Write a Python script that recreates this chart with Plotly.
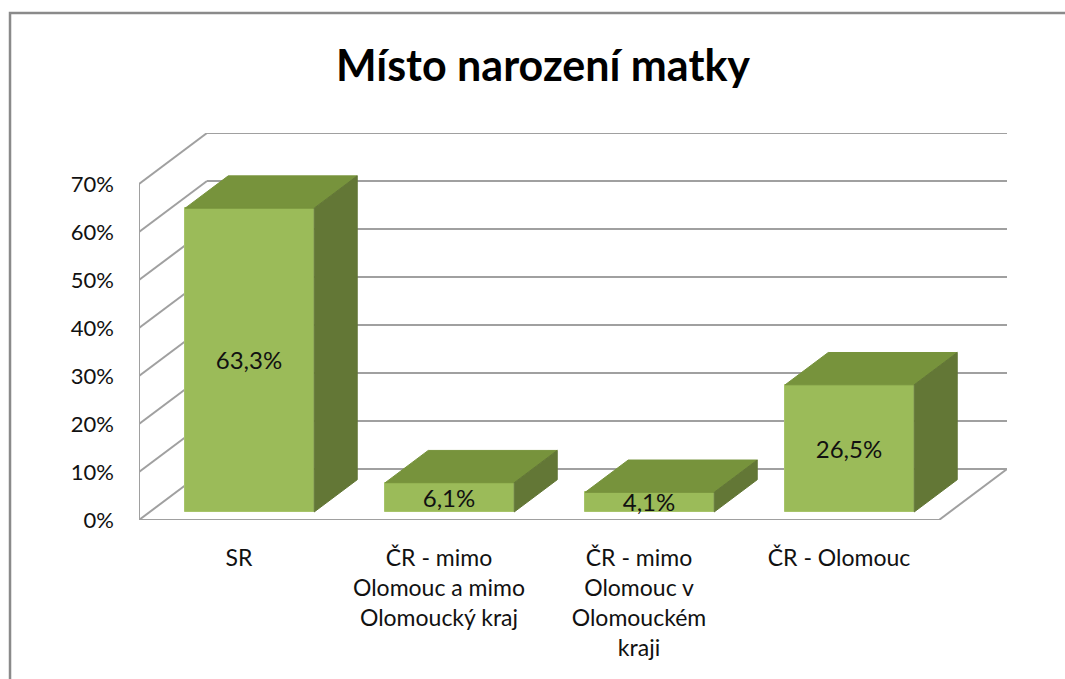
import plotly.graph_objects as go

# ---- data ----
categories = [
    "SR",
    "ČR - mimo<br>Olomouc a mimo<br>Olomoucký kraj",
    "ČR - mimo<br>Olomouc v<br>Olomouckém<br>kraji",
    "ČR - Olomouc",
]
values = [63.3, 6.1, 4.1, 26.5]
y_ticks = [0, 10, 20, 30, 40, 50, 60, 70]
y_tick_labels = ["0%", "10%", "20%", "30%", "40%", "50%", "60%", "70%"]
title_text = "Místo narození matky"

# ---- 3D (oblique) projection parameters ----
DX = 0.34        # category units for full depth
DY = 10.625      # percent units for full depth
D0, D1 = 0.157, 0.79   # bar front / back depth fractions
BAR_W = 0.645
FONT = "Lato, 'Noto Sans', sans-serif"

FRONT = "#9BBB59"
TOP = "#77933C"
SIDE = "#637736"
GRID = "#a0a0a0"

n = len(categories)
x_left, x_right = -0.5, n - 0.5

fig = go.Figure()

# front faces of the bars (bar trace)
fx = [i + D0 * DX for i in range(n)]
base = D0 * DY
labels = [f"{v:.1f}%".replace(".", ",") for v in values]
fig.add_trace(go.Bar(
    x=fx, y=values, base=[base] * n, width=BAR_W,
    marker=dict(color=FRONT, line=dict(color="#a7c46a", width=1)),
    text=labels, textposition="inside", insidetextanchor="middle",
    constraintext="none", textangle=0,
    textfont=dict(family=FONT, size=24, color="#111111"),
    hoverinfo="skip", showlegend=False,
))

# top and side faces (polygons computed from data)
ddx = (D1 - D0) * DX
ddy = (D1 - D0) * DY
h = BAR_W / 2
for i, v in enumerate(values):
    cx = fx[i]
    top_y = base + v
    fig.add_trace(go.Scatter(
        x=[cx - h, cx + h, cx + h + ddx, cx - h + ddx, cx - h],
        y=[top_y, top_y, top_y + ddy, top_y + ddy, top_y],
        fill="toself", fillcolor=TOP, mode="lines",
        line=dict(color=TOP, width=1), hoverinfo="skip", showlegend=False,
    ))
    fig.add_trace(go.Scatter(
        x=[cx + h, cx + h, cx + h + ddx, cx + h + ddx, cx + h],
        y=[base, top_y, top_y + ddy, base + ddy, base],
        fill="toself", fillcolor=SIDE, mode="lines",
        line=dict(color=SIDE, width=1), hoverinfo="skip", showlegend=False,
    ))

# walls / gridlines (below traces)
shapes = []
line = dict(color=GRID, width=2)
for v in y_ticks:
    shapes.append(dict(type="line", xref="x", yref="y", layer="below",
                       x0=x_left + DX, y0=v + DY, x1=x_right + DX, y1=v + DY, line=line))
    shapes.append(dict(type="line", xref="x", yref="y", layer="below",
                       x0=x_left, y0=v, x1=x_left + DX, y1=v + DY, line=line))
shapes.append(dict(type="line", xref="x", yref="y", layer="below",
                   x0=x_left, y0=0, x1=x_left, y1=y_ticks[-1], line=line))
shapes.append(dict(type="line", xref="x", yref="y", layer="below",
                   x0=x_left, y0=0, x1=x_right, y1=0, line=line))
shapes.append(dict(type="line", xref="x", yref="y", layer="below",
                   x0=x_right, y0=0, x1=x_right + DX, y1=DY, line=line))
# outer chart frame
shapes.append(dict(type="rect", xref="paper", yref="paper", layer="below",
                   x0=-0.1486, y0=-1.0, x1=1.2, y1=1.31,
                   line=dict(color="#8a8a8a", width=2.5)))

W, H = 1065, 679
fig.update_layout(
    width=W, height=H,
    margin=dict(l=139, r=W - 1007, t=133, b=H - 520, pad=0),
    paper_bgcolor="white", plot_bgcolor="rgba(0,0,0,0)",
    shapes=shapes,
    title=dict(text=f"<b>{title_text}</b>", x=543 / W, xanchor="center",
               xref="container", y=1 - 66 / H, yref="container", yanchor="middle",
               font=dict(family=FONT, size=43, color="#000000")),
    xaxis=dict(range=[x_left, x_right + DX], tickvals=list(range(n)), ticktext=categories,
               showgrid=False, zeroline=False, showline=False, ticks="",
               ticklabelstandoff=22, tickangle=0,
               tickfont=dict(family=FONT, size=23, color="#111111"), fixedrange=True),
    yaxis=dict(range=[0, y_ticks[-1] + DY], tickvals=y_ticks, ticktext=y_tick_labels,
               showgrid=False, zeroline=False, showline=False, ticks="",
               ticklabelstandoff=24,
               tickfont=dict(family=FONT, size=22, color="#111111"), fixedrange=True),
    bargap=0, showlegend=False,
)

fig.write_html("out.html", config={"displayModeBar": False},
               post_script="document.body.style.margin='0';")
